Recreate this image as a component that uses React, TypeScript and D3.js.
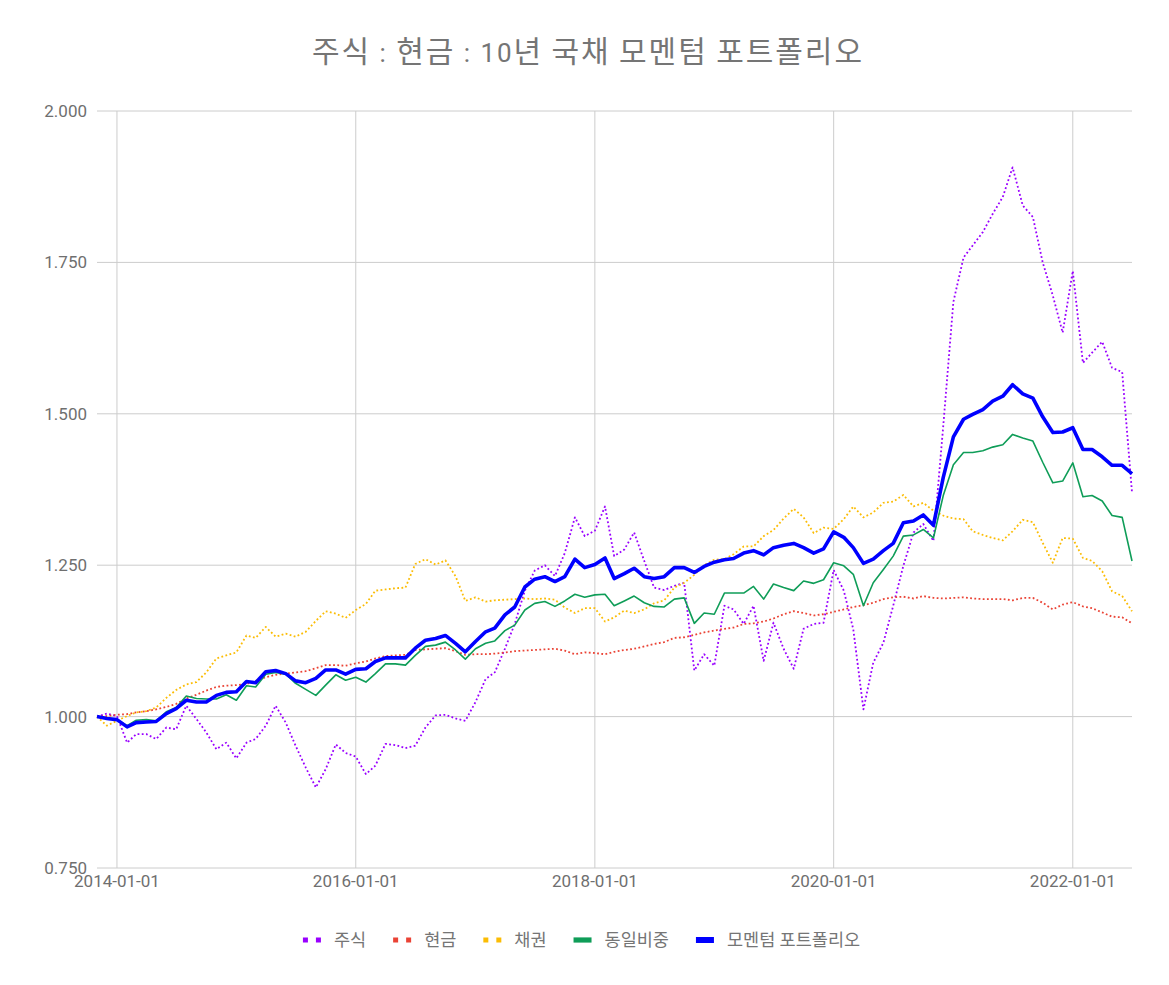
import React, { useEffect } from "react";
import * as d3 from "d3";

// monthly data, starting 2013-11
const startMonth = new Date(2013, 10, 1);

const seriesNames = ["주식", "현금", "채권", "동일비중", "모멘텀 포트폴리오"];
const titleText = "주식 : 현금 : 10년 국채 모멘텀 포트폴리오";

const stockValues = [
  1.0, 1.005, 1.001, 0.957, 0.971, 0.971, 0.963, 0.982, 0.979, 1.018,
  0.996, 0.974, 0.946, 0.957, 0.931, 0.957, 0.963, 0.985, 1.018, 0.99,
  0.952, 0.916, 0.883, 0.913, 0.954, 0.94, 0.934, 0.905, 0.919, 0.955,
  0.953, 0.948, 0.952, 0.982, 1.002, 1.003, 0.997, 0.993, 1.024, 1.062,
  1.073, 1.112, 1.153, 1.208, 1.241, 1.25, 1.232, 1.27, 1.329, 1.298,
  1.307, 1.347, 1.265, 1.276, 1.304, 1.257, 1.213, 1.209, 1.216, 1.221,
  1.076, 1.103, 1.084, 1.183, 1.177, 1.153, 1.183, 1.092, 1.155, 1.112,
  1.079, 1.145, 1.153, 1.155, 1.242, 1.208, 1.144, 1.012, 1.089, 1.122,
  1.183, 1.249, 1.304, 1.318, 1.29, 1.48, 1.685, 1.758, 1.778, 1.8,
  1.83, 1.858, 1.907, 1.844, 1.825, 1.75, 1.695, 1.634, 1.736, 1.584,
  1.601, 1.619, 1.576, 1.569, 1.37,
];

const cashValues = [
  1.0, 1.001, 1.003, 1.004, 1.007, 1.009, 1.012, 1.016, 1.021, 1.03,
  1.036, 1.043, 1.049, 1.051, 1.052, 1.054, 1.059, 1.065, 1.069, 1.071,
  1.073, 1.075, 1.08, 1.085, 1.085, 1.084, 1.088, 1.091, 1.096, 1.1,
  1.101, 1.102, 1.11, 1.111, 1.112, 1.113, 1.108, 1.102, 1.103, 1.103,
  1.104, 1.106, 1.108, 1.109, 1.11, 1.111, 1.112, 1.109, 1.103, 1.106,
  1.105, 1.103, 1.107, 1.11, 1.112, 1.116, 1.12, 1.123, 1.13, 1.131,
  1.135, 1.139, 1.142, 1.145, 1.147, 1.153, 1.154, 1.157, 1.162, 1.169,
  1.174, 1.171, 1.167, 1.169, 1.173, 1.177, 1.181, 1.184, 1.188, 1.194,
  1.197, 1.198, 1.195, 1.199, 1.196, 1.195, 1.196, 1.197, 1.195, 1.194,
  1.194, 1.194, 1.192, 1.196, 1.196, 1.188, 1.177, 1.185, 1.189, 1.182,
  1.179, 1.172, 1.165, 1.164, 1.154,
];

const bondValues = [
  1.0, 0.985, 0.993, 1.001, 1.007, 1.009, 1.015, 1.031, 1.044, 1.053,
  1.057, 1.073, 1.096, 1.101, 1.106, 1.134, 1.13, 1.148, 1.132, 1.137,
  1.132, 1.14, 1.158, 1.174, 1.17, 1.163, 1.176, 1.186, 1.208, 1.21,
  1.212, 1.213, 1.252, 1.26, 1.251, 1.258, 1.232, 1.191, 1.197, 1.19,
  1.192, 1.193, 1.194, 1.195, 1.194, 1.195, 1.193, 1.18, 1.171, 1.179,
  1.179, 1.157, 1.164, 1.175, 1.171, 1.177, 1.187, 1.192, 1.213, 1.221,
  1.234, 1.25, 1.259, 1.26, 1.268, 1.281, 1.281, 1.298, 1.308, 1.327,
  1.343, 1.329, 1.303, 1.312, 1.31, 1.326, 1.347, 1.329, 1.337, 1.353,
  1.355, 1.366, 1.347, 1.353, 1.34, 1.332, 1.327, 1.326, 1.306, 1.3,
  1.295, 1.291, 1.306, 1.325, 1.321, 1.287, 1.254, 1.295, 1.294, 1.262,
  1.257, 1.24, 1.207, 1.199, 1.174,
];

const equalValues = [
  1.0, 0.997, 0.995, 0.985, 0.994, 0.995, 0.993, 1.008, 1.015, 1.034,
  1.03, 1.029, 1.029, 1.036, 1.027, 1.051, 1.049, 1.07, 1.073, 1.07,
  1.055, 1.045, 1.035, 1.052, 1.069, 1.06, 1.065, 1.057, 1.071, 1.087,
  1.087, 1.085, 1.101, 1.116, 1.118, 1.123, 1.11, 1.095, 1.112, 1.121,
  1.125, 1.142, 1.151, 1.176, 1.187, 1.19, 1.182, 1.191, 1.202, 1.197,
  1.201, 1.202, 1.183, 1.191, 1.199, 1.188, 1.182, 1.181, 1.194, 1.196,
  1.154, 1.171, 1.169, 1.204, 1.204, 1.204, 1.215, 1.194, 1.219, 1.213,
  1.208, 1.224, 1.22, 1.226, 1.254, 1.249, 1.235, 1.183, 1.221, 1.243,
  1.265, 1.298, 1.3, 1.309, 1.295, 1.365, 1.416, 1.436, 1.436, 1.439,
  1.445, 1.449, 1.466, 1.46, 1.455, 1.42, 1.386, 1.389, 1.419, 1.363,
  1.365, 1.356, 1.332, 1.329, 1.257,
];

const momentumValues = [
  1.0, 0.997, 0.995, 0.983, 0.99, 0.991, 0.992, 1.005, 1.013, 1.027,
  1.024, 1.024, 1.035, 1.04, 1.041, 1.058, 1.056, 1.074, 1.076, 1.071,
  1.059, 1.056, 1.063, 1.077, 1.077, 1.07, 1.078, 1.079, 1.091, 1.097,
  1.097, 1.097, 1.113, 1.126, 1.129, 1.134, 1.121, 1.107, 1.124, 1.14,
  1.146, 1.168, 1.181, 1.214, 1.227, 1.231, 1.223, 1.231, 1.26, 1.246,
  1.251, 1.262, 1.228, 1.236, 1.245, 1.231, 1.228, 1.231, 1.246, 1.246,
  1.238, 1.248, 1.255, 1.259, 1.261, 1.27, 1.274, 1.267, 1.279, 1.283,
  1.286, 1.279, 1.27, 1.277, 1.305, 1.296, 1.279, 1.253, 1.26, 1.274,
  1.286, 1.32, 1.323, 1.333, 1.316, 1.395, 1.462, 1.491, 1.499, 1.507,
  1.521, 1.529, 1.548, 1.533, 1.526, 1.495, 1.469, 1.47, 1.477, 1.441,
  1.441, 1.429, 1.415, 1.415, 1.401,
];

const yTicks = [0.75, 1.0, 1.25, 1.5, 1.75, 2.0];

const WIDTH = 1169;
const HEIGHT = 985;
const FONT = "Roboto, 'Noto Sans CJK KR', 'Noto Sans', sans-serif";

export default function App() {
  const svgRef = React.useRef(null);

  useEffect(() => {
    const svg = d3.select(svgRef.current);
    svg.selectAll("*").remove();

    const dates = d3.timeMonth.range(
      startMonth,
      d3.timeMonth.offset(startMonth, stockValues.length)
    );

    const x = d3
      .scaleTime()
      .domain([dates[0], dates[dates.length - 1]])
      .range([97, 1132]);
    const y = d3.scaleLinear().domain([0.75, 2.0]).range([868, 111]);

    // gridlines
    const grid = svg.append("g");
    grid
      .selectAll("line.h")
      .data(yTicks)
      .enter()
      .append("line")
      .attr("x1", x.range()[0])
      .attr("x2", x.range()[1])
      .attr("y1", (d) => y(d))
      .attr("y2", (d) => y(d))
      .attr("stroke", "#cccccc")
      .attr("stroke-width", 1);

    const xTicks = x.ticks(d3.timeYear.every(2));
    grid
      .selectAll("line.v")
      .data(xTicks)
      .enter()
      .append("line")
      .attr("x1", (d) => x(d))
      .attr("x2", (d) => x(d))
      .attr("y1", y(2.0))
      .attr("y2", y(0.75))
      .attr("stroke", "#cccccc")
      .attr("stroke-width", 1);

    // tick labels
    svg
      .append("g")
      .selectAll("text")
      .data(yTicks)
      .enter()
      .append("text")
      .attr("x", 87)
      .attr("y", (d) => y(d))
      .attr("dy", "0.35em")
      .attr("text-anchor", "end")
      .attr("fill", "#6f6f6f")
      .style("font-family", FONT)
      .style("font-size", "17px")
      .text((d) => d3.format(".3f")(d));

    svg
      .append("g")
      .selectAll("text")
      .data(xTicks)
      .enter()
      .append("text")
      .attr("x", (d) => x(d))
      .attr("y", 887)
      .attr("text-anchor", "middle")
      .attr("fill", "#6f6f6f")
      .style("font-family", FONT)
      .style("font-size", "17px")
      .text((d) => d3.timeFormat("%Y-%m-%d")(d));

    const series = [
      { values: stockValues, color: "#9900ff", width: 1.8, dash: "1.8,2.4" },
      { values: cashValues, color: "#ea4335", width: 1.8, dash: "1.8,2.4" },
      { values: bondValues, color: "#fbbc04", width: 1.8, dash: "1.8,2.4" },
      { values: equalValues, color: "#0f9d58", width: 1.6, dash: null },
      { values: momentumValues, color: "#0000ff", width: 3.6, dash: null },
    ];

    const line = d3
      .line<number>()
      .x((d, i) => x(dates[i]))
      .y((d) => y(d));

    series.forEach((s) => {
      svg
        .append("path")
        .datum(s.values)
        .attr("fill", "none")
        .attr("stroke", s.color)
        .attr("stroke-width", s.width)
        .attr("stroke-linejoin", "round")
        .attr("stroke-dasharray", s.dash)
        .attr("d", line);
    });

    // title: hangul runs a bit larger, whole line spread to the reference width
    const title = svg
      .append("text")
      .attr("x", 587)
      .attr("y", 62)
      .attr("text-anchor", "middle")
      .attr("textLength", 550)
      .attr("lengthAdjust", "spacing")
      .attr("fill", "#757575")
      .style("font-family", FONT)
      .style("font-size", "26px");
    titleText
      .split(/([가-힣]+)/)
      .filter((s) => s.length > 0)
      .forEach((part) => {
        const t = title.append("tspan").text(part);
        if (/[가-힣]/.test(part)) t.style("font-size", "30px");
      });

    // legend, laid out from measured text widths
    const legend = svg.append("g");
    const items = legend
      .selectAll("g")
      .data(series)
      .enter()
      .append("g");
    items
      .append("text")
      .attr("x", 31)
      .attr("y", 0)
      .attr("dy", "0.35em")
      .attr("fill", "#757575")
      .style("font-family", FONT)
      .style("font-size", "17.5px")
      .text((d, i) => seriesNames[i]);
    items.each(function (d) {
      const g = d3.select(this);
      if (d.dash) {
        [0, 13].forEach((off) => {
          g.append("rect")
            .attr("x", off)
            .attr("y", -2.5)
            .attr("width", 5)
            .attr("height", 5)
            .attr("fill", d.color);
        });
      } else {
        g.append("rect")
          .attr("x", 0)
          .attr("y", d.width > 2 ? -3 : -2.6)
          .attr("width", 18)
          .attr("height", d.width > 2 ? 6 : 5.2)
          .attr("fill", d.color);
      }
    });
    const widths: number[] = [];
    items.each(function () {
      const t = d3.select(this).select("text").node() as SVGTextElement;
      widths.push(31 + t.getComputedTextLength());
    });
    const gap = 27;
    const total = d3.sum(widths) + gap * (widths.length - 1);
    let cx = 581.5 - total / 2;
    items.attr("transform", (d, i) => {
      const t = `translate(${cx},940)`;
      cx += widths[i] + gap;
      return t;
    });
  }, []);

  return (
    <div style={{ position: "absolute", left: 0, top: 0 }}>
      <svg ref={svgRef} width={WIDTH} height={HEIGHT} style={{ display: "block", background: "#fff" }} />
    </div>
  );
}
